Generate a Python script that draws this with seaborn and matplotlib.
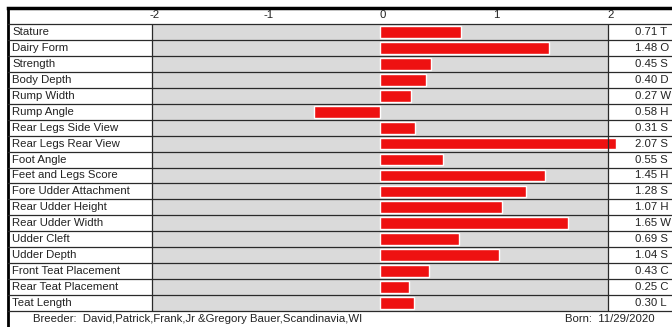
import pandas as pd
import matplotlib.pyplot as plt
import seaborn as sns

traits = ["Stature", "Dairy Form", "Strength", "Body Depth", "Rump Width", "Rump Angle",
          "Rear Legs Side View", "Rear Legs Rear View", "Foot Angle", "Feet and Legs Score",
          "Fore Udder Attachment", "Rear Udder Height", "Rear Udder Width", "Udder Cleft",
          "Udder Depth", "Front Teat Placement", "Rear Teat Placement", "Teat Length"]
values = [0.71, 1.48, 0.45, 0.40, 0.27, -0.58, 0.31, 2.07, 0.55, 1.45,
          1.28, 1.07, 1.65, 0.69, 1.04, 0.43, 0.25, 0.30]
value_labels = ["0.71 T", "1.48 O", "0.45 S", "0.40 D", "0.27 W", "0.58 H", "0.31 S", "2.07 S",
                "0.55 S", "1.45 H", "1.28 S", "1.07 H", "1.65 W", "0.69 S", "1.04 S", "0.43 C",
                "0.25 C", "0.30 L"]
ticks = [-2, -1, 0, 1, 2]
breeder = "Breeder:  David,Patrick,Frank,Jr &Gregory Bauer,Scandinavia,WI"
born = "Born:  11/29/2020"

df = pd.DataFrame({"trait": traits, "value": values})

sns.set_style("white")
plt.rcParams["font.family"] = ["Liberation Sans", "DejaVu Sans"]
fs = 8.2

fig = plt.figure(figsize=(6.72, 3.27), dpi=100)
ax = fig.add_axes([8 / 672, 0, 664 / 672, 319 / 327])

n = len(traits)
# table spans: label column | -2..2 scale | value column
ax.set_xlim(-3.263, 2.561)

# gray scale background behind the rows
ax.fill_between([-2, 2], -0.5, n - 0.5, color="#dadada", zorder=0, lw=0)

sns.barplot(data=df, x="value", y="trait", orient="h", color="#ee1111",
            saturation=1, width=0.74, ax=ax, zorder=2)
ax.set_ylim(n + 0.5, -1.5)

# row separators across the whole table
for i in range(n + 1):
    ax.axhline(i - 0.5, color="#2a2a2a", lw=0.9, zorder=3)
ax.vlines([-2, 2], -0.5, n - 0.5, color="#2a2a2a", lw=0.9, zorder=3)

for i, (t, lab) in enumerate(zip(traits, value_labels)):
    ax.text(-3.225, i, t, va="center", ha="left", fontsize=fs, color="#222")
    ax.text(2.235, i, lab, va="center", ha="left", fontsize=fs, color="#222")

for t in ticks:
    ax.text(t + 0.02, -1.05, str(t), va="center", ha="center", fontsize=fs, color="#222")

ax.text(-3.04, n, breeder, va="center", ha="left", fontsize=fs, color="#222")
ax.text(1.62, n, born, va="center", ha="left", fontsize=fs, color="#222")

ax.set_xticks([])
ax.set_yticks([])
ax.set_xlabel("")
ax.set_ylabel("")
for s in ["right", "bottom"]:
    ax.spines[s].set_visible(False)
ax.spines["top"].set_linewidth(2.5)
ax.spines["top"].set_color("black")
ax.spines["left"].set_linewidth(2)
ax.spines["left"].set_color("black")

fig.savefig("out.png", dpi=100)
